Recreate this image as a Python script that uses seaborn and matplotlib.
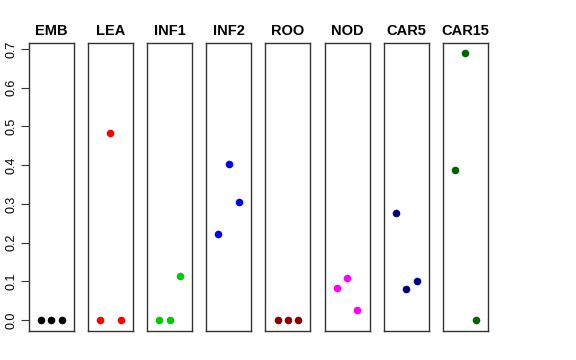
import matplotlib
matplotlib.use("Agg")
import matplotlib.pyplot as plt
import seaborn as sns
import pandas as pd

tissues = ["EMB", "LEA", "INF1", "INF2", "ROO", "NOD", "CAR5", "CAR15"]
colores = ["black", "red", "#00CD00", "blue", "#8B0000", "magenta", "#000080", "#006400"]

emb = [0.0, 0.0, 0.0]
lea = [0.0, 0.483, 0.0]
inf1 = [0.0, 0.0, 0.113]
inf2 = [0.222, 0.402, 0.304]
roo = [0.0, 0.0, 0.0]
nod = [0.082, 0.109, 0.025]
car5 = [0.276, 0.081, 0.101]
car15 = [0.387, 0.688, 0.0]

valores = [emb, lea, inf1, inf2, roo, nod, car5, car15]
replica = [1, 2, 3]

sns.set_style("white")
plt.rcParams['font.family'] = ['Liberation Sans', 'DejaVu Sans']

fig, axes = plt.subplots(1, 8, figsize=(5.76, 3.6), dpi=100, sharey=True)
fig.subplots_adjust(left=0.05, right=0.847, top=0.881, bottom=0.081, wspace=0.318)

for i, ax in enumerate(axes):
    df = pd.DataFrame({"rep": replica, "val": valores[i]})
    sns.scatterplot(x="rep", y="val", data=df, ax=ax, color=colores[i],
                    s=30, edgecolor=colores[i], linewidth=0)
    ax.set_title(tissues[i], fontweight="bold", fontsize=10.5, pad=6, color="black")
    ax.set_xlim(2 - 2.18, 2 + 2.18)
    ax.set_xticks([])
    ax.set_xlabel("")
    ax.set_ylabel("")
    for sp in ax.spines.values():
        sp.set_visible(True)
        sp.set_color("#333333")
        sp.set_linewidth(1)
    if i > 0:
        ax.tick_params(axis="y", left=False, labelleft=False)

ax0 = axes[0]
ax0.set_ylim(-0.0275, 0.7155)
ax0.set_yticks([0.0, 0.1, 0.2, 0.3, 0.4, 0.5, 0.6, 0.7])
ax0.set_yticklabels(["0.0", "0.1", "0.2", "0.3", "0.4", "0.5", "0.6", "0.7"])
ax0.tick_params(axis="y", left=True, length=6, width=0.8, color="#333333",
                labelsize=9, labelcolor="black", labelrotation=90, pad=2)
for lab in ax0.get_yticklabels():
    lab.set_va("center")

plt.savefig("out.png", dpi=100)
